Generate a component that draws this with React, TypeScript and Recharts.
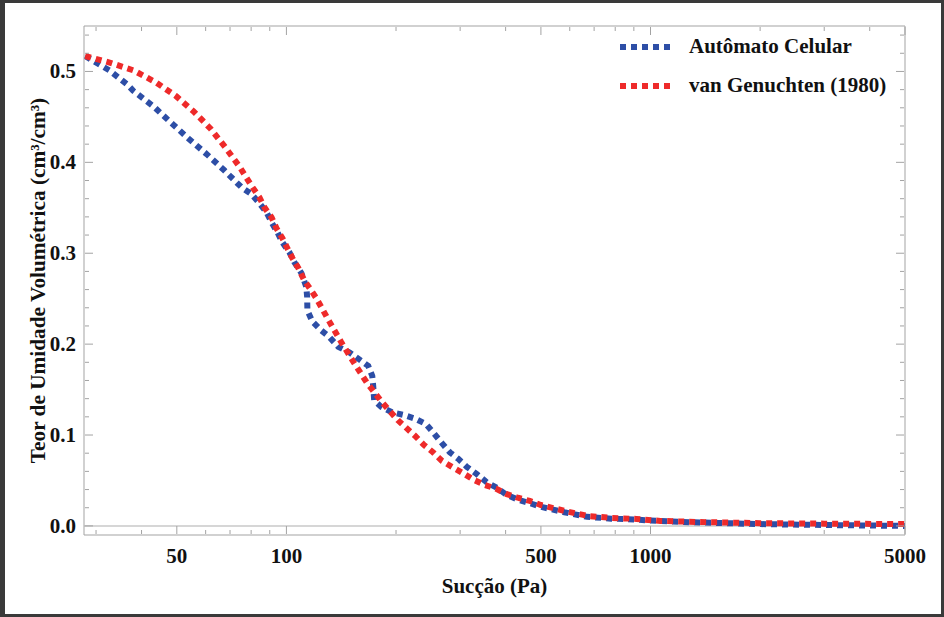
import { Label, Line, LineChart, ReferenceLine, XAxis, YAxis } from "recharts";

const blueX = [28, 32.7, 36.7, 37.9, 43.0, 48.1, 53.9, 60.4, 67.6, 75.3, 80.2, 84.3, 88.2, 91.0, 94.5, 97.5, 101.9, 105.2, 110, 113.4, 114, 114.2, 117.8, 124.7, 131.1, 138.8, 148.8, 157.5, 167.8, 172.1, 173.2, 174.2, 182, 195, 210.5, 225.6, 241.8, 254, 267.4, 281, 296, 313, 333.5, 355, 378, 403, 432, 466, 500, 580, 670, 780, 900, 1000, 1300, 2000, 3000, 5000];
const blueY = [0.517, 0.501, 0.485, 0.479, 0.462, 0.444, 0.426, 0.409, 0.391, 0.3725, 0.365, 0.355, 0.345, 0.334, 0.323, 0.312, 0.301, 0.29, 0.278, 0.263, 0.252, 0.237, 0.225, 0.215, 0.208, 0.197, 0.191, 0.184, 0.176, 0.165, 0.153, 0.138, 0.131, 0.125, 0.122, 0.118, 0.112, 0.102, 0.091, 0.081, 0.074, 0.065, 0.057, 0.048, 0.042, 0.034, 0.029, 0.025, 0.021, 0.015, 0.01, 0.008, 0.007, 0.006, 0.004, 0.002, 0.001, 0.0];

const redX = [28, 33.2, 38.1, 43.8, 49.7, 55.6, 61.9, 68.1, 74.4, 80.7, 84.3, 87.0, 91.0, 93.9, 97.5, 100.6, 103.9, 107.9, 112, 117, 120.8, 131.1, 141.5, 153.6, 166.7, 183.2, 202.7, 225.7, 238.8, 252.7, 267.6, 285, 305.5, 327.4, 351, 376, 403, 432, 466, 500, 581, 672, 781, 915, 1065, 1327, 2000, 3000, 5000];
const redY = [0.517, 0.509, 0.501, 0.488, 0.473, 0.456, 0.437, 0.416, 0.395, 0.3725, 0.3615, 0.3505, 0.3396, 0.3275, 0.3165, 0.3055, 0.2945, 0.2835, 0.27, 0.259, 0.2505, 0.225, 0.202, 0.179, 0.157, 0.136, 0.116, 0.099, 0.089, 0.081, 0.0714, 0.065, 0.058, 0.0505, 0.045, 0.041, 0.035, 0.031, 0.0275, 0.023, 0.0165, 0.011, 0.0088, 0.0077, 0.0055, 0.0044, 0.003, 0.0025, 0.002];

const majorX = [50, 100, 500, 1000, 5000];
const minorX = [30, 40, 60, 70, 80, 90, 200, 300, 400, 600, 700, 800, 900, 2000, 3000, 4000];
const majorY = [0, 0.1, 0.2, 0.3, 0.4, 0.5];
const minorY = [0.02, 0.04, 0.06, 0.08, 0.12, 0.14, 0.16, 0.18, 0.22, 0.24, 0.26, 0.28, 0.32, 0.34, 0.36, 0.38, 0.42, 0.44, 0.46, 0.48, 0.52, 0.54];

const seriesNames = ["Autômato Celular", "van Genuchten (1980)"];
const BLUE = "#2d4ea6";
const RED = "#ee2a2a";
const FRAME = "#a3a3a3";
const FONT = "'Liberation Serif', 'Times New Roman', serif";

const blueData = blueX.map((x, i) => ({ x, y: blueY[i] }));
const redData = redX.map((x, i) => ({ x, y: redY[i] }));
const allX = [...minorX, ...majorX].sort((a, b) => a - b);
const allY = [...minorY, ...majorY].sort((a, b) => a - b);

const isMajor = (list: number[], v: number) => list.some((m) => Math.abs(m - v) < 1e-9);

// bottom axis sits 1px below the plot (height 1), top axis 1px above
function XTick({ x, y, payload, top }: any) {
  const len = isMajor(majorX, payload.value) ? 8 : 4;
  const y0 = top ? y + 1 : y - 1;
  const dir = top ? 1 : -1;
  return (
    <g>
      <line x1={x} x2={x} y1={y0} y2={y0 + dir * len} stroke={FRAME} />
      {!top && isMajor(majorX, payload.value) && (
        <text x={x} y={y + 28} textAnchor="middle" fontFamily={FONT} fontWeight="bold" fontSize={21} fill="#111">
          {payload.value}
        </text>
      )}
    </g>
  );
}

function YTick({ x, y, payload, right }: any) {
  const len = isMajor(majorY, payload.value) ? 8 : 4;
  const x0 = right ? x - 1 : x + 1;
  const dir = right ? -1 : 1;
  return (
    <g>
      <line x1={x0} x2={x0 + dir * len} y1={y} y2={y} stroke={FRAME} />
      {!right && isMajor(majorY, payload.value) && (
        <text x={x - 8} y={y + 7} textAnchor="end" fontFamily={FONT} fontWeight="bold" fontSize={21} fill="#111">
          {payload.value.toFixed(1)}
        </text>
      )}
    </g>
  );
}

function LegendRow({ color, label }: { color: string; label: string }) {
  return (
    <div style={{ display: "flex", alignItems: "center", height: 39 }}>
      <svg width={71} height={10}>
        <line x1={2} x2={54} y1={5} y2={5} stroke={color} strokeWidth={6} strokeDasharray="6 5" />
      </svg>
      <span style={{ fontFamily: FONT, fontWeight: "bold", fontSize: 21, color: "#111" }}>{label}</span>
    </div>
  );
}

export default function App() {
  return (
    <div style={{ position: "absolute", left: 0, top: 0, width: 944, height: 617, background: "#fff" }}>
      <LineChart width={944} height={617} margin={{ top: 25, right: 38, bottom: 81, left: 83 }}>
        <XAxis
          dataKey="x"
          type="number"
          scale="log"
          domain={[27.8, 5000]}
          allowDataOverflow
          ticks={allX}
          interval={0}
          height={1}
          tickSize={0}
          tickMargin={0}
          tickLine={false}
          stroke={FRAME}
          tick={(p: any) => <XTick {...p} />}
        >
          <Label
            content={({ viewBox }: any) => (
              <text x={viewBox.x + viewBox.width / 2} y={viewBox.y + 58} textAnchor="middle" fontFamily={FONT} fontWeight="bold" fontSize={21} fill="#111">
                Sucção (Pa)
              </text>
            )}
          />
        </XAxis>
        <XAxis
          xAxisId="top"
          orientation="top"
          dataKey="x"
          type="number"
          scale="log"
          domain={[27.8, 5000]}
          allowDataOverflow
          ticks={allX}
          interval={0}
          height={1}
          tickSize={0}
          tickMargin={0}
          tickLine={false}
          stroke={FRAME}
          tick={(p: any) => <XTick {...p} top />}
        />
        <YAxis
          type="number"
          domain={[-0.01, 0.55]}
          allowDataOverflow
          ticks={allY}
          interval={0}
          width={1}
          tickSize={0}
          tickMargin={0}
          tickLine={false}
          stroke={FRAME}
          tick={(p: any) => <YTick {...p} />}
        >
          <Label
            content={({ viewBox }: any) => {
              const cx = viewBox.x - 38;
              const cy = viewBox.y + viewBox.height / 2;
              return (
                <text x={cx} y={cy} transform={`rotate(-90 ${cx} ${cy})`} textAnchor="middle" fontFamily={FONT} fontWeight="bold" fontSize={21.3} fill="#111">
                  Teor de Umidade Volumétrica (cm³/cm³)
                </text>
              );
            }}
          />
        </YAxis>
        <YAxis
          yAxisId="right"
          orientation="right"
          type="number"
          domain={[-0.01, 0.55]}
          allowDataOverflow
          ticks={allY}
          interval={0}
          width={1}
          tickSize={0}
          tickMargin={0}
          tickLine={false}
          stroke={FRAME}
          tick={(p: any) => <YTick {...p} right />}
        />
        <ReferenceLine y={0} stroke="#c8c8c8" strokeWidth={1.5} />
        <Line data={blueData} dataKey="y" name={seriesNames[0]} type="linear" stroke={BLUE} strokeWidth={6} strokeDasharray="6 5" dot={false} isAnimationActive={false} />
        <Line data={redData} dataKey="y" name={seriesNames[1]} type="linear" stroke={RED} strokeWidth={6} strokeDasharray="6 5" dot={false} isAnimationActive={false} />
      </LineChart>
      <div style={{ position: "absolute", left: 618, top: 27 }}>
        <LegendRow color={BLUE} label={seriesNames[0]} />
        <LegendRow color={RED} label={seriesNames[1]} />
      </div>
      <div style={{ position: "absolute", inset: 0, border: "3px solid #3a3a3a", borderLeftWidth: 5, pointerEvents: "none" }} />
    </div>
  );
}
